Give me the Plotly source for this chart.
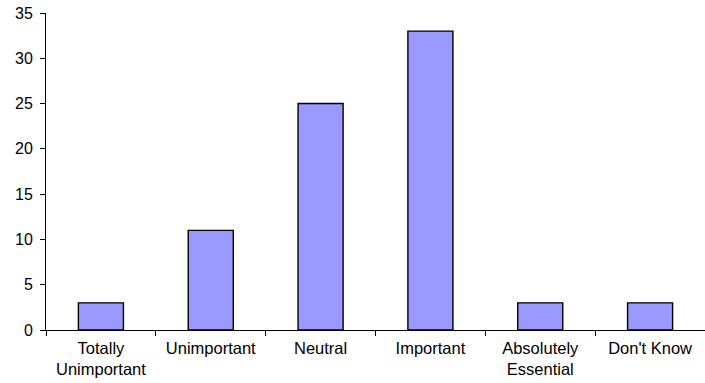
import plotly.graph_objects as go

categories = ['Totally<br>Unimportant', 'Unimportant', 'Neutral', 'Important',
              'Absolutely<br>Essential', "Don't Know"]
counts = [3, 11, 25, 33, 3, 3]
y_ticks = [0, 5, 10, 15, 20, 25, 30, 35]

BAR = '#9999FF'
FAMILY = 'Arial, Liberation Sans, sans-serif'

fig = go.Figure(go.Bar(
    x=categories, y=counts,
    marker=dict(color=BAR, line=dict(color='black', width=1.4)),
    width=0.41,
))

fig.update_layout(
    width=705, height=383,
    margin=dict(l=46, r=0, t=13, b=53),
    paper_bgcolor='white', plot_bgcolor='white',
    font=dict(family=FAMILY, size=15, color='black'),
    showlegend=False,
)
fig.update_xaxes(
    showline=True, linecolor='black', linewidth=1,
    ticks='outside', tickson='boundaries', ticklen=5, tickcolor='black',
    showgrid=False, range=[-0.5, 5.5],
    tickfont=dict(family=FAMILY, size=16.5, color='black'),
    ticklabelstandoff=3,
)
fig.update_yaxes(
    range=[0, 35], tickvals=y_ticks,
    showline=True, linecolor='black', linewidth=1,
    ticks='outside', ticklen=5, tickcolor='black',
    showgrid=False, zeroline=False, ticklabelstandoff=4,
    tickfont=dict(family=FAMILY, size=16, color='black'),
)

# drop the default 8px body margin so the figure fills the window
fig.write_html('out.html', config={'displayModeBar': False},
               post_script="document.body.style.margin='0';")
